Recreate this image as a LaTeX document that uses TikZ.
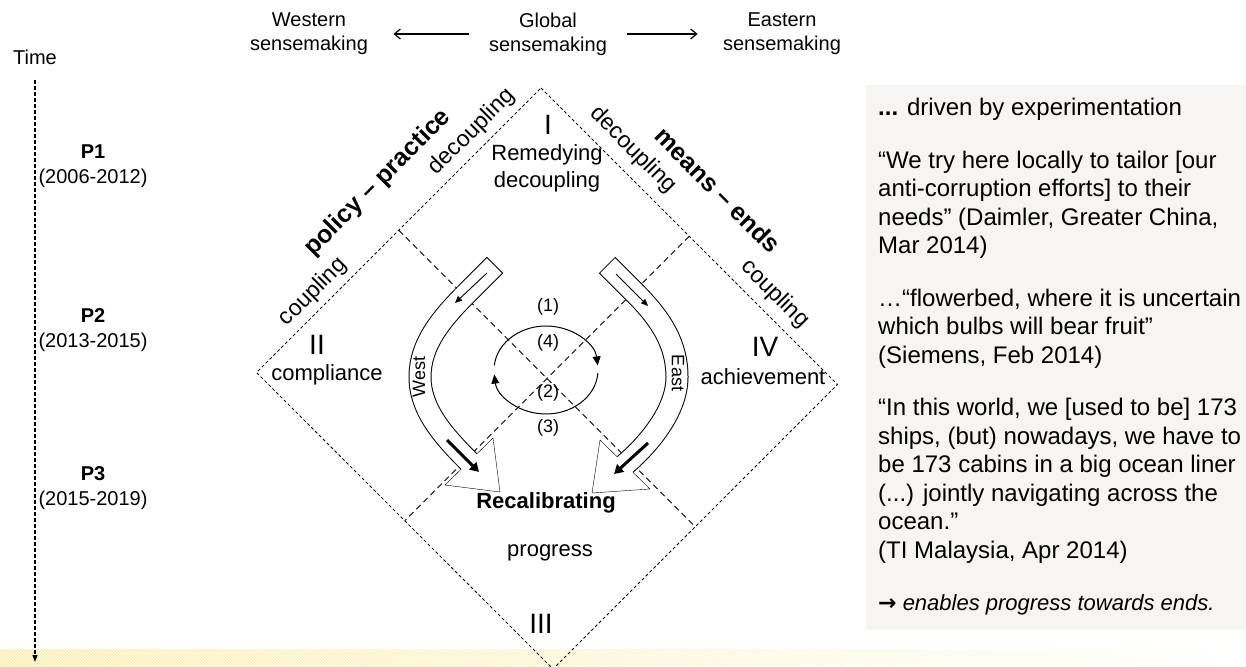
\documentclass[tikz,border=0pt]{standalone}
\usepackage{fontspec}
\setmainfont{Liberation Sans}
\newfontfamily\symfont{DejaVu Sans}
\usetikzlibrary{arrows.meta,calc,patterns,positioning}
\definecolor{boxgray}{RGB}{246,245,242}
\definecolor{bandyellow}{RGB}{250,238,170}

\begin{document}
\begin{tikzpicture}[x=1pt,y=-1pt]
   \useasboundingbox (0,0) rectangle (1246,666);
   \tikzstyle{head}=[align=center, font=\fontsize{20}{24}\selectfont]
   \tikzstyle{period}=[align=center, font=\fontsize{20}{25}\selectfont]
   \tikzstyle{numeral}=[font=\fontsize{28}{30}\selectfont]
   \tikzstyle{quadrant}=[align=center, font=\fontsize{22}{27}\selectfont]
   \tikzstyle{sidelabel}=[font=\fontsize{23}{26}\selectfont]
   \tikzstyle{pairlabel}=[font=\bfseries\fontsize{25}{28}\selectfont]
   \tikzstyle{cyclelabel}=[font=\fontsize{18}{20}\selectfont]
   \tikzstyle{quotetext}=[align=left, inner sep=0pt, font=\fontsize{24}{28.5}\selectfont]
   \tikzstyle{diamondline}=[line width=0.8pt, dash pattern=on 3pt off 2.5pt]
   \tikzstyle{crossline}=[line width=1pt, dash pattern=on 6pt off 4pt]
   \tikzstyle{shaft}=[double=white, double distance=21pt, line width=1pt, line cap=rect]
   \tikzstyle{cycarrow}=[line width=1pt, -{Triangle[length=9pt,width=8pt]}]
   \tikzstyle{sensearrow}=[line width=1.2pt, -{Straight Barb[length=6pt,width=10pt]}, shorten <=17pt, shorten >=22pt]
   % yellow band at the foot
   \fill[left color=bandyellow, right color=white] (0,649) rectangle (1246,666);
   \fill[pattern=north east lines, pattern color=white] (0,649) rectangle (1246,666);
   % time line
   \node[head] (time) at (35,57) {Time};
   \coordinate (tend) at (35,662);
   \draw[line width=1.2pt, dash pattern=on 4pt off 2pt, -{Triangle[length=7pt,width=5pt]}, shorten <=12pt] (time) -- (tend);
   \node[period] (p1) at (93,166) {\textbf{P1}\\(2006-2012)};
   \node[period] (p2) at (93,330) {\textbf{P2}\\(2013-2015)};
   \node[period] (p3) at (93,488) {\textbf{P3}\\(2015-2019)};
   % sensemaking
   \node[head] (western) at (309,34) {Western\\sensemaking};
   \node[head] (global) at (548,34) {Global\\sensemaking};
   \node[head] (eastern) at (782,34) {Eastern\\sensemaking};
   \path (global) edge[sensearrow] (western);
   \path (global) edge[sensearrow] (eastern);
   % diamond
   \coordinate (dtop) at (541,88);
   \coordinate (dleft) at (256.5,372.5);
   \coordinate (dright) at (837.5,384.5);
   \coordinate (dbottom) at (553,669);
   \draw[diamondline] (dtop) -- (dright) -- (dbottom) -- (dleft) -- cycle;
   \draw[crossline] ($(dtop)!0.5!(dleft)$) -- ($(dright)!0.5!(dbottom)$);
   \draw[crossline] ($(dtop)!0.5!(dright)$) -- ($(dleft)!0.5!(dbottom)$);
   % block arrows
   \coordinate (wt) at (495,265); \coordinate (w1) at (467,293);
   \coordinate (wc1) at (440,320); \coordinate (wc2) at (420,345);
   \coordinate (w2) at (420,377);
   \coordinate (wc3) at (420,410); \coordinate (wc4) at (444,436.5);
   \coordinate (wb) at (469,461.5);
   \coordinate (wa1) at (445,485); \coordinate (wp) at (500,492); \coordinate (wa2) at (493,438);
   \coordinate (et) at (607,265); \coordinate (e1) at (635,293);
   \coordinate (ec1) at (662,320); \coordinate (ec2) at (677,345);
   \coordinate (e2) at (677,377);
   \coordinate (ec3) at (677,410); \coordinate (ec4) at (650,443);
   \coordinate (eb) at (625,464.5);
   \coordinate (ea1) at (650,489); \coordinate (ep) at (592,493); \coordinate (ea2) at (600,440);
   \foreach \side in {w,e} {
       \draw[shaft] ($(\side t)!11.5pt!(\side 1)$) -- (\side 1) .. controls (\side c1) and (\side c2) .. (\side 2)
           .. controls (\side c3) and (\side c4) .. (\side b);
       \fill[white] (\side a1) -- (\side p) -- (\side a2) -- cycle;
       \draw ($(\side b)!11pt!(\side a1)$) -- (\side a1) -- (\side p) -- (\side a2) -- ($(\side b)!11pt!(\side a2)$);
   }
   \coordinate (wi1) at (487,273); \coordinate (wi2) at (455,303);
   \coordinate (ei1) at (616,274); \coordinate (ei2) at (648,306);
   \coordinate (wk1) at (447,440); \coordinate (wk2) at (479,472);
   \coordinate (ek1) at (648,443); \coordinate (ek2) at (614,474);
   \draw[line width=0.9pt, -{Triangle[length=7pt,width=6pt]}] (wi1) -- (wi2);
   \draw[line width=0.9pt, -{Triangle[length=7pt,width=6pt]}] (ei1) -- (ei2);
   \draw[line width=3pt, -{Triangle[length=9pt,width=10pt]}] (wk1) -- (wk2);
   \draw[line width=3pt, -{Triangle[length=9pt,width=10pt]}] (ek1) -- (ek2);
   \node[cyclelabel, rotate=90] (west) at (419,377) {West};
   \node[cyclelabel, rotate=-90] (east) at (678,373) {East};
   % cycle
   \coordinate (cyc) at (546,370);
   \draw[cycarrow] ($(cyc)+(186:52 and 44)$) arc[start angle=186, end angle=354, x radius=52, y radius=44];
   \draw[cycarrow] ($(cyc)+(4:52 and 44)$) arc[start angle=4, end angle=174, x radius=52, y radius=44];
   \foreach \n/\y in {1/307,4/343,2/393,3/428}
       \node[cyclelabel] (c\n) at (548,\y) {(\n)};
   % quadrants
   \node[numeral] (one) at (548,125) {I};
   \node[quadrant] (remedy) at (547,168) {Remedying\\decoupling};
   \node[numeral] (two) at (317,345) {II};
   \node[quadrant] (compliance) at (327,375) {compliance};
   \node[numeral] (four) at (765,347) {IV};
   \node[quadrant] (achievement) at (763,377) {achievement};
   \node[quadrant] (recal) at (546,503) {\textbf{Recalibrating}};
   \node[quadrant] (progress) at (550,553) {progress};
   \node[numeral] (three) at (541,624) {III};
   % sides
   \node[sidelabel, rotate=45] (lcoup) at (313,292) {coupling};
   \node[sidelabel, rotate=45] (ldecoup) at (472,132) {decoupling};
   \node[pairlabel, rotate=45] (policy) at (378,183) {policy – practice};
   \node[sidelabel, rotate=-45] (rdecoup) at (633,150) {decoupling};
   \node[pairlabel, rotate=-45] (means) at (718,190) {means – ends};
   \node[sidelabel, rotate=-45] (rcoup) at (775,294) {coupling};
   % quotes
   \fill[boxgray] (866,85) rectangle (1246,630);
   \node[quotetext, anchor=north west] (quotes) at (878,98) {\textbf{...} driven by experimentation\\[24pt]
       “We try here locally to tailor [our\\anti-corruption efforts] to their\\needs” (Daimler, Greater China,\\Mar 2014)\\[24pt]
       …“flowerbed, where it is uncertain\\which bulbs will bear fruit”\\(Siemens, Feb 2014)\\[24pt]
       “In this world, we [used to be] 173\\ships, (but) nowadays, we have to\\be 173 cabins in a big ocean liner\\(...) jointly navigating across the\\ocean.”\\(TI Malaysia, Apr 2014)\\[24pt]
       {\fontsize{22}{26}\selectfont{\symfont\bfseries →} \textit{enables progress towards ends.}}};
\end{tikzpicture}
\end{document}
